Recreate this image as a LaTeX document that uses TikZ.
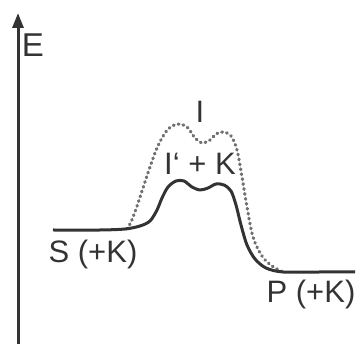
\documentclass[tikz,border=0pt]{standalone}
\usepackage{fontspec}
\setmainfont{Liberation Sans}
\usetikzlibrary{arrows.meta}
\definecolor{ink}{HTML}{333333}
\definecolor{dotc}{HTML}{707070}
\tikzset{
  lbl/.style={text=ink, inner sep=0pt, font=\fontsize{31}{36}\selectfont},
  axisline/.style={draw=ink, line width=3pt, -{Triangle[width=11pt,length=15pt]}},
  solidcurve/.style={draw=ink, line width=3pt, line join=round},
  dotcurve/.style={draw=dotc, line width=3.2pt, line cap=round, dash pattern=on 0.8pt off 4.2pt}
}
\begin{document}
\begin{tikzpicture}[x=1pt,y=-1pt]
\useasboundingbox (0,0) rectangle (357,344);
\coordinate (axbot) at (18,344);
\coordinate (axtop) at (18,13);
\draw[axisline] (axbot) -- (axtop);
\node[lbl, font=\fontsize{33}{38}\selectfont] (E) at (33,45) {E};
\draw[dotcurve] plot[smooth, tension=0.55] coordinates {(127,229) (131,222) (136,209) (143,188) (150,167) (157,148) (165,133) (172,126) (180,124) (188,128) (195,138) (202,143) (210,140) (216,134) (223,132) (231,136) (237,150) (242,177) (247,207) (253,237) (262,256) (272,266) (283,272)};
\draw[solidcurve] plot[smooth, tension=0.5] coordinates {(53,230) (100,230) (125,229) (140,226) (150,221) (157,210) (162,198) (168,187) (176,181) (184,181) (192,187) (200,190) (208,188) (216,184) (224,185) (231,191) (236,205) (241,225) (247,245) (255,259) (266,268) (283,272) (320,272) (355,272)};
\node[lbl] (I) at (200,112) {I};
\node[lbl] (IK) at (200,164) {I‘ + K};
\node[lbl] (S) at (93,254) {S (+K)};
\node[lbl] (P) at (311,294) {P (+K)};
\end{tikzpicture}
\end{document}
